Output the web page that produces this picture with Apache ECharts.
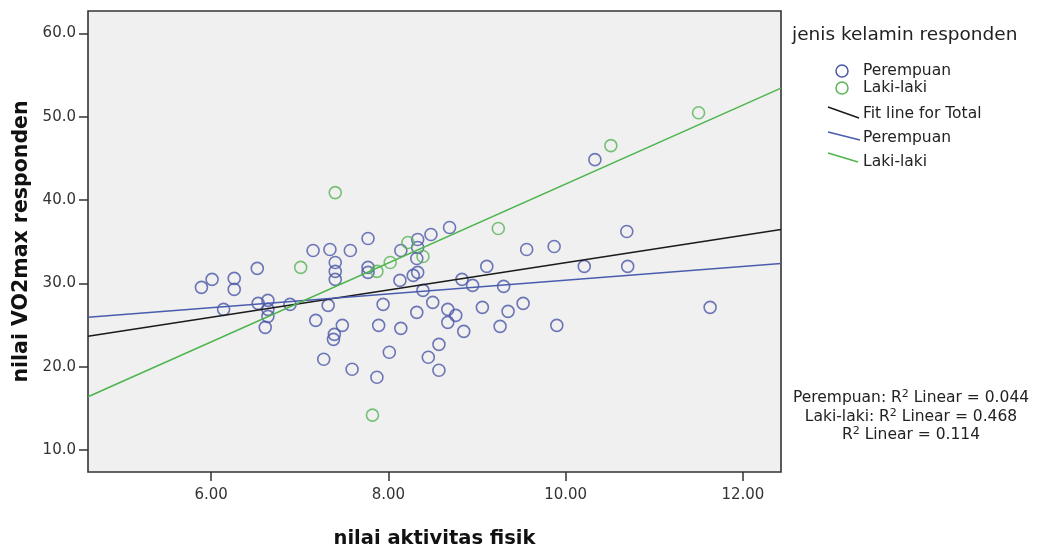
<!DOCTYPE html>
<html>
<head>
<meta charset="utf-8">
<script src="https://cdn.jsdelivr.net/npm/echarts@6/dist/echarts.min.js"></script>
<style>
  html, body { margin: 0; padding: 0; background: #ffffff; }
  #chart { width: 1037px; height: 554px; }
</style>
</head>
<body>
<div id="chart"></div>
<script>
// Physical activity score vs VO2max, split by sex
const perempuanX = [5.89, 6.01, 6.26, 6.26, 6.52, 6.14, 6.53, 6.64, 6.64, 6.64, 6.61, 6.89,
  7.15, 7.34, 7.57, 7.77, 7.40, 7.40, 7.40, 7.77, 7.77, 7.32, 7.18, 7.48, 7.39, 7.38, 7.27,
  7.59, 7.87, 7.94, 7.89, 8.01, 8.14, 8.33, 8.48, 8.69, 8.33, 8.32, 8.28, 8.33, 8.13, 8.39,
  8.83, 8.95, 9.30, 9.11, 9.56, 9.87, 10.21, 8.50, 8.32, 8.67, 8.76, 8.67, 9.06, 9.35, 9.52,
  9.26, 9.90, 8.14, 8.85, 8.57, 8.45, 8.57, 10.33, 10.69, 10.70, 11.63];
const perempuanY = [29.52, 30.48, 30.60, 29.28, 31.80, 26.89, 27.60, 27.96, 26.89, 26.05, 24.73, 27.48,
  33.95, 34.07, 33.95, 35.39, 32.51, 31.44, 30.48, 31.92, 31.32, 27.37, 25.57, 24.97, 23.89, 23.29, 20.90,
  19.70, 18.74, 27.48, 24.97, 21.74, 33.95, 35.27, 35.87, 36.71, 34.31, 32.99, 30.96, 31.32, 30.36, 29.16,
  30.48, 29.76, 29.64, 32.04, 34.07, 34.43, 32.04, 27.72, 26.53, 26.89, 26.17, 25.33, 27.13, 26.65, 27.60,
  24.85, 24.97, 24.61, 24.25, 22.69, 21.14, 19.58, 44.85, 36.23, 32.04, 27.13];

const lakiX = [7.01, 7.40, 7.82, 7.87, 8.02, 8.22, 8.39, 9.24, 10.51, 11.50];
const lakiY = [31.92, 40.90, 14.19, 31.44, 32.51, 34.91, 33.23, 36.59, 46.53, 50.48];

// Linear fit lines, given at the two ends of the x range
const fitX = [4.61, 12.43];
const fitTotalY = [23.65, 36.47];
const fitPerempuanY = [25.93, 32.40];
const fitLakiY = [16.40, 53.44];

const xTicks = [6, 8, 10, 12];
const yTicks = [10, 20, 30, 40, 50, 60];
const xRange = [4.61, 12.43];
const yRange = [7.37, 62.69];

const rSquared = [
  ['Perempuan: R', ' Linear = 0.044'],
  ['Laki-laki: R', ' Linear = 0.468'],
  ['R', ' Linear = 0.114']
];

const BLUE = '#4b58a8';
const GREEN = '#58b458';
const FONT = '"DejaVu Sans", "Liberation Sans", sans-serif';

const pairs = (xs, ys) => xs.map((x, i) => [x, ys[i]]);

const chart = echarts.init(document.getElementById('chart'), null, { renderer: 'canvas' });

const circleStyle = (c) => ({ color: 'rgba(0,0,0,0)', borderColor: c, borderWidth: 1.6 });

const option = {
  animation: false,
  backgroundColor: '#ffffff',
  grid: {
    left: 88, top: 11, width: 693, height: 462,
    show: true, backgroundColor: '#f0f0f0', borderColor: '#333333', borderWidth: 1.6
  },
  xAxis: {
    type: 'value', min: xRange[0], max: xRange[1],
    name: 'nilai aktivitas fisik', nameLocation: 'middle', nameGap: 57,
    nameTextStyle: { fontFamily: FONT, fontWeight: 'bold', fontSize: 19.5, color: '#111' },
    axisLine: { show: false },
    splitLine: { show: false },
    axisTick: { show: true, customValues: xTicks, length: 9, lineStyle: { color: '#333', width: 1.5 } },
    axisLabel: { customValues: xTicks, margin: 16, fontFamily: FONT, fontSize: 15, color: '#333',
      formatter: v => v.toFixed(2) }
  },
  yAxis: {
    type: 'value', min: yRange[0], max: yRange[1],
    name: 'nilai VO2max responden', nameLocation: 'middle', nameGap: 56,
    nameTextStyle: { fontFamily: FONT, fontWeight: 'bold', fontSize: 20.5, color: '#111' },
    axisLine: { show: false },
    splitLine: { show: false },
    axisTick: { show: true, customValues: yTicks, length: 9, lineStyle: { color: '#333', width: 1.5 } },
    axisLabel: { customValues: yTicks, margin: 12, fontFamily: FONT, fontSize: 15, color: '#333',
      formatter: v => v.toFixed(1) }
  },
  series: [
    { name: 'Perempuan', type: 'scatter', data: pairs(perempuanX, perempuanY),
      symbol: 'circle', symbolSize: 12, itemStyle: circleStyle(BLUE), z: 2 },
    { name: 'Laki-laki', type: 'scatter', data: pairs(lakiX, lakiY),
      symbol: 'circle', symbolSize: 12, itemStyle: circleStyle(GREEN), z: 2 },
    { name: 'Fit line for Total', type: 'line', data: pairs(fitX, fitTotalY), showSymbol: false,
      lineStyle: { color: '#1a1a1a', width: 1.5 }, z: 3 },
    { name: 'Perempuan fit', type: 'line', data: pairs(fitX, fitPerempuanY), showSymbol: false,
      lineStyle: { color: '#4a5cae', width: 1.5 }, z: 3 },
    { name: 'Laki-laki fit', type: 'line', data: pairs(fitX, fitLakiY), showSymbol: false,
      lineStyle: { color: '#4cb54c', width: 1.5 }, z: 3 }
  ],
  graphic: [
    // legend
    { type: 'text', left: 792, top: 26, style: { text: 'jenis kelamin responden', font: '18.5px ' + FONT, fill: '#222' } },
    { type: 'circle', shape: { cx: 842, cy: 71, r: 6 }, style: { fill: 'none', stroke: BLUE, lineWidth: 1.5 } },
    { type: 'text', x: 863, y: 71, style: { text: 'Perempuan', font: '15.5px ' + FONT, fill: '#222', verticalAlign: 'middle' } },
    { type: 'circle', shape: { cx: 842, cy: 88, r: 6 }, style: { fill: 'none', stroke: GREEN, lineWidth: 1.5 } },
    { type: 'text', x: 863, y: 88, style: { text: 'Laki-laki', font: '15.5px ' + FONT, fill: '#222', verticalAlign: 'middle' } },
    { type: 'line', shape: { x1: 828, y1: 107, x2: 859, y2: 118 }, style: { stroke: '#1a1a1a', lineWidth: 1.4 } },
    { type: 'text', x: 863, y: 114, style: { text: 'Fit line for Total', font: '15.5px ' + FONT, fill: '#222', verticalAlign: 'middle' } },
    { type: 'line', shape: { x1: 828, y1: 132, x2: 860, y2: 140 }, style: { stroke: '#4a5cae', lineWidth: 1.4 } },
    { type: 'text', x: 863, y: 138, style: { text: 'Perempuan', font: '15.5px ' + FONT, fill: '#222', verticalAlign: 'middle' } },
    { type: 'line', shape: { x1: 828, y1: 153, x2: 858, y2: 162 }, style: { stroke: '#4cb54c', lineWidth: 1.4 } },
    { type: 'text', x: 863, y: 162, style: { text: 'Laki-laki', font: '15.5px ' + FONT, fill: '#222', verticalAlign: 'middle' } }
  ].concat(rSquared.map((r, i) => ({
    type: 'text', x: 911, y: [398, 416.5, 434.5][i],
    style: {
      text: '{n|' + r[0] + '}{s|2}{n|' + r[1] + '}',
      align: 'center', verticalAlign: 'middle',
      rich: {
        n: { font: '15.5px ' + FONT, fill: '#222', lineHeight: 18 },
        s: { font: '11px ' + FONT, fill: '#222', lineHeight: 18, verticalAlign: 'top' }
      }
    }
  })))
};

chart.setOption(option);
</script>
</body>
</html>
